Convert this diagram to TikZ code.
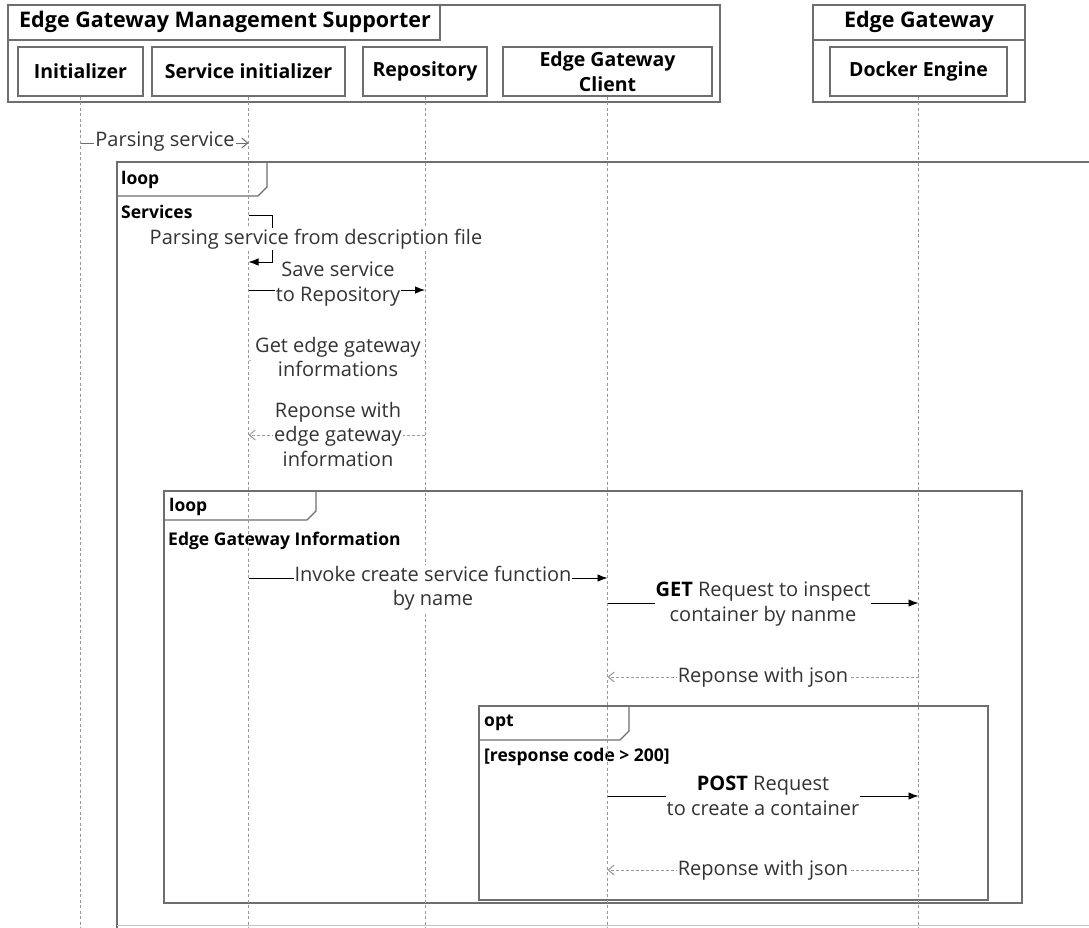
\documentclass[tikz,border=0pt]{standalone}
\usepackage{fontspec}
\setmainfont{Open Sans}
\usetikzlibrary{arrows.meta}
\definecolor{framegray}{HTML}{6E6E6E}
\definecolor{lifegray}{HTML}{9A9A9A}
\definecolor{txt}{HTML}{333333}

\begin{document}
\begin{tikzpicture}[x=1pt,y=-1pt,
  partbox/.style={draw=framegray,line width=1.2pt,inner sep=0pt,minimum height=49pt,
    align=center,font=\bfseries\fontsize{19.5}{25}\selectfont},
  titletext/.style={font=\bfseries\fontsize{21.5}{25}\selectfont,inner sep=0pt},
  lifeline/.style={draw=lifegray,line width=0.9pt,dash pattern=on 3pt off 2.5pt},
  frame/.style={draw=framegray,line width=1.2pt},
  flabel/.style={anchor=west,inner sep=0pt,font=\bfseries\fontsize{17.5}{20}\selectfont},
  msg/.style={draw=black,line width=0.9pt,-{Latex[length=10pt,width=7.5pt]}},
  openhead/.style={-{Straight Barb[length=6pt,width=10pt,line width=1pt]}},
  reply/.style={draw=lifegray,line width=0.9pt,dash pattern=on 3pt off 2pt,openhead},
  lbl/.style={fill=white,inner sep=1pt,align=center,text=txt,
    font=\fontsize{20}{24.5}\selectfont}
]
\useasboundingbox (0,0) rectangle (1089,927);
\fill[white] (0,0) rectangle (1089,927);

% --- combined fragments -------------------------------------------------
% outer loop (Services)
\draw[frame] (117,930) -- (117,162) -- (1095,162);
\draw[lifegray!60,line width=0.8pt] (117,925) -- (1095,925);
\draw[frame] (117,196) -- (258,196) -- (267,187) -- (267,162);
\node[flabel] (loopA) at (121,180) {loop};
\node[flabel] (condA) at (121,212) {Services};

% inner loop (Edge Gateway Information)
\draw[frame] (164,491) rectangle (1022,903);
\draw[frame] (164,520) -- (307,520) -- (316,511) -- (316,491);
\node[flabel] (loopB) at (169,507) {loop};
\node[flabel] (condB) at (168,541) {Edge Gateway Information};

% opt fragment
\draw[frame] (479,706) rectangle (988,900);
\draw[frame] (479,740) -- (620,740) -- (629,731) -- (629,706);
\node[flabel] (optC) at (484,723) {opt};
\node[flabel] (condC) at (484,757) {[response code > 200]};

% --- participants ------------------------------------------------------
\draw[frame] (8,5) rectangle (720,102);
\draw[frame] (8,40) -- (440,40) -- (440,5);
\node[titletext] (egms) at (225,22) {Edge Gateway Management Supporter};

\draw[frame] (813,5) rectangle (1025,102);
\draw[frame] (813,40) -- (1025,40);
\node[titletext] (eg) at (919,22) {Edge Gateway};

\node[partbox,minimum width=125pt] (init) at (80.5,71.5) {Initializer};
\node[partbox,minimum width=193pt] (svc)  at (248.5,71.5) {Service initializer};
\node[partbox,minimum width=124pt] (repo) at (425,71.5) {Repository};
\node[partbox,minimum width=209pt] (cli)  at (607.5,71.5) {Edge Gateway\\Client};
\node[partbox,minimum width=177pt] (dock) at (918.5,71.5) {Docker Engine};

% lifelines
\foreach \p in {init,svc,repo,cli,dock}
  \draw[lifeline] (\p.south) -- (\p.south |- 0,930);

% --- messages ------------------------------------------------------------
\draw[draw=framegray,line width=0.9pt,openhead]
  (init |- 0,143) -- (svc |- 0,143);
\node[lbl] (m1) at (165,142) {Parsing service};

% self call
\draw[msg] (svc |- 0,215) -- ++(24,0) |- (svc |- 0,262);
\node[lbl] (m2) at (316,239) {Parsing service from description file};

\draw[msg] (svc |- 0,290) -- (repo |- 0,290);
\node[lbl] (m3) at (338,284) {Save service\\to Repository};

\draw[draw=lifegray!70,line width=0.6pt,dash pattern=on 2pt off 3pt] (svc |- 0,360) -- (repo |- 0,360);
\node[lbl] (m4) at (338,357) {Get edge gateway\\informations};

\draw[reply] (repo |- 0,435) -- (svc |- 0,435);
\node[lbl] (m5) at (338,434) {Reponse with\\edge gateway\\information};

\draw[msg] (svc |- 0,578) -- (cli |- 0,578);
\node[lbl] (m6) at (433,588) {Invoke create service function\\by name};

\draw[msg] (cli |- 0,603) -- (dock |- 0,603);
\node[lbl] (m7) at (763,604) {\textcolor{black}{\bfseries GET} Request to inspect\\container by nanme};

\draw[reply] (dock |- 0,677) -- (cli |- 0,677);
\node[lbl] (m8) at (763,677) {Reponse with json};

\draw[msg] (cli |- 0,796) -- (dock |- 0,796);
\node[lbl] (m9) at (763,796) {\textcolor{black}{\bfseries POST} Request\\to create a container};

\draw[reply] (dock |- 0,870) -- (cli |- 0,870);
\node[lbl] (m10) at (763,870) {Reponse with json};

\end{tikzpicture}
\end{document}
